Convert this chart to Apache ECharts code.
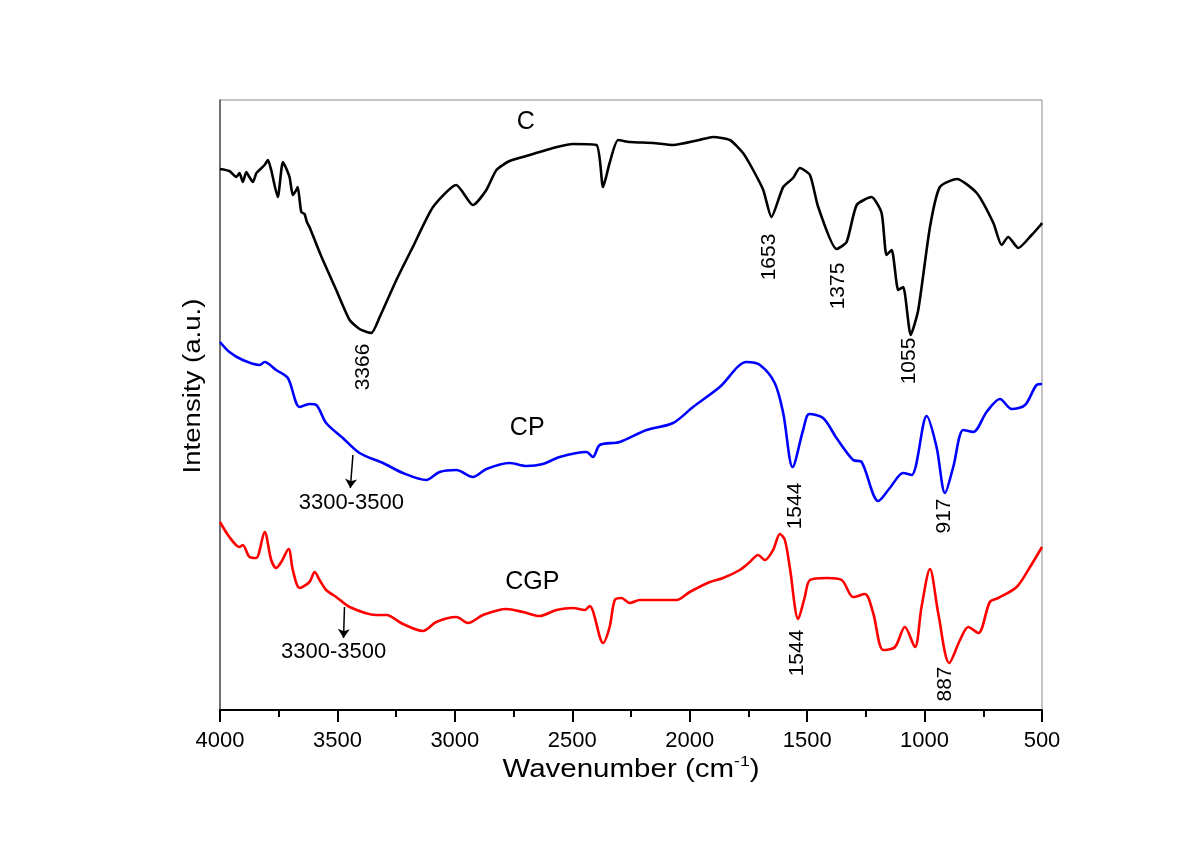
<!DOCTYPE html>
<html>
<head>
<meta charset="utf-8">
<script src="https://cdn.jsdelivr.net/npm/echarts@6/dist/echarts.min.js"></script>
<style>html,body{margin:0;padding:0;background:#fff}#chart{width:1195px;height:847px}</style>
</head>
<body>
<div id="chart"></div>
<script>
// Wavenumber (cm-1), intensity (a.u., estimated)
const C_SPECTRUM = [[4000,541],[3960,539],[3930,533],[3917,537],[3903,528],[3888,538],[3875,533],[3860,528],[3845,537],[3832,540],[3810,545],[3796,550],[3782,540],[3754,513],[3732,548],[3704,533],[3690,515],[3675,520],[3669,523],[3654,498],[3640,496],[3630,488],[3619,483],[3590,466],[3562,450],[3505,420],[3448,390],[3406,381],[3356,377],[3320,393],[3249,430],[3179,463],[3093,503],[2994,525],[2923,505],[2866,520],[2823,540],[2767,549],[2681,555],[2582,562],[2497,566],[2397,565],[2369,523],[2341,547],[2305,570],[2255,568],[2156,567],[2071,565],[1960,570],[1900,573],[1829,570],[1773,557],[1730,540],[1687,520],[1652,493],[1602,523],[1560,532],[1531,542],[1488,535],[1453,503],[1375,461],[1332,468],[1289,505],[1226,513],[1183,497],[1162,455],[1140,460],[1112,420],[1091,423],[1059,375],[1027,400],[977,483],[935,523],[863,531],[778,517],[707,487],[672,465],[644,473],[601,462],[544,475],[506,485],[500,487]];
const CP_SPECTRUM = [[4000,368],[3960,358],[3903,350],[3832,345],[3810,348],[3761,340],[3711,332],[3661,303],[3619,306],[3590,305],[3548,287],[3477,272],[3406,257],[3306,247],[3221,237],[3122,230],[3065,238],[2994,240],[2923,233],[2866,241],[2767,247],[2695,244],[2625,246],[2554,253],[2440,258],[2412,253],[2383,265],[2298,268],[2184,280],[2071,287],[1986,303],[1872,323],[1758,348],[1701,345],[1638,327],[1602,297],[1562,243],[1517,280],[1491,296],[1432,292],[1375,272],[1304,250],[1268,248],[1197,209],[1148,222],[1091,237],[1055,235],[991,294],[949,263],[913,217],[878,243],[835,280],[793,278],[736,298],[679,311],[629,301],[572,305],[523,325],[500,326]];
const CGP_SPECTRUM = [[4000,188],[3960,173],[3917,163],[3903,165],[3874,153],[3846,152],[3810,178],[3782,150],[3761,142],[3739,148],[3708,161],[3690,140],[3661,122],[3619,128],[3597,138],[3576,130],[3548,120],[3505,113],[3448,103],[3335,95],[3292,95],[3221,86],[3136,79],[3079,88],[2994,93],[2944,87],[2880,95],[2781,101],[2710,98],[2639,94],[2568,100],[2497,102],[2447,100],[2426,104],[2369,67],[2341,83],[2319,110],[2291,112],[2255,107],[2213,110],[2056,110],[2000,118],[1914,128],[1858,132],[1787,140],[1744,148],[1709,155],[1680,150],[1645,160],[1616,176],[1595,170],[1574,143],[1538,91],[1510,113],[1488,130],[1417,132],[1353,130],[1304,113],[1254,116],[1219,97],[1176,60],[1126,63],[1084,83],[1041,63],[1013,103],[977,141],[942,97],[895,47],[849,70],[814,83],[771,77],[722,108],[686,112],[608,123],[551,143],[500,163]];
const X_TICKS = [4000,3500,3000,2500,2000,1500,1000,500];
const X_TITLE = 'Wavenumber (cm';
const X_TITLE_SUP = '-1';
const Y_TITLE = 'Intensity (a.u.)';

const FONT = "'Liberation Sans', Arial, sans-serif";
function lbl(text, coord, size, rotate) {
  return {name: text, coord: coord, value: text,
    label: {show: true, formatter: text, fontSize: size, rotate: rotate || 0, color: '#000', fontFamily: FONT, position: 'inside'}};
}
function arrow(from, to) {
  return [{coord: from}, {coord: to}];
}
const arrowStyle = {symbol: ['none', 'arrow'], symbolSize: 9, silent: true, label: {show: false},
  lineStyle: {color: '#000', width: 1.5, type: 'solid'}};
const mpBase = {symbol: 'circle', symbolSize: 1, itemStyle: {color: 'rgba(0,0,0,0)'}, silent: true};

const chart = echarts.init(document.getElementById('chart'), null, {renderer: 'canvas'});
chart.setOption({
  animation: false,
  backgroundColor: '#fff',
  grid: {left: 220, right: 153, top: 100, bottom: 137, show: true, borderColor: '#8a8a8a', borderWidth: 1},
  graphic: [
    {type: 'text', x: 631, y: 770, scaleX: 1.18, scaleY: 1, silent: true,
      style: {text: '{a|' + X_TITLE + '}{b|' + X_TITLE_SUP + '}{a|)}', align: 'center', verticalAlign: 'middle',
        rich: {a: {fontSize: 25, fontFamily: FONT, fill: '#000'}, b: {fontSize: 15, fontFamily: FONT, fill: '#000', verticalAlign: 'top', padding: [0, 0, 16, 0]}}}},
    {type: 'text', x: 194, y: 386, rotation: Math.PI / 2, scaleX: 1.2, silent: true,
      style: {text: Y_TITLE, align: 'center', verticalAlign: 'middle', fontSize: 23, fontFamily: FONT, fill: '#000'}}
  ],
  xAxis: {
    type: 'value', min: 500, max: 4000, interval: 500, inverse: true,
    axisLine: {lineStyle: {color: '#000', width: 2}},
    axisTick: {show: true, inside: false, length: 12, lineStyle: {color: '#000', width: 2}},
    minorTick: {show: true, splitNumber: 2, length: 7, lineStyle: {color: '#000', width: 2}},
    axisLabel: {fontSize: 22, color: '#000', fontFamily: FONT, margin: 20,
      formatter: v => X_TICKS.includes(v) ? String(v) : ''},
    splitLine: {show: false}, minorSplitLine: {show: false}
  },
  yAxis: {
    type: 'value', min: 0, max: 610,
    axisLine: {show: true, lineStyle: {color: '#555', width: 1.5}},
    axisTick: {show: false}, axisLabel: {show: false}, splitLine: {show: false}
  },
  series: [
    {type: 'line', name: 'C', data: C_SPECTRUM, showSymbol: false, smooth: 0.2,
      lineStyle: {color: '#000', width: 2.6}, itemStyle: {color: '#000'},
      markPoint: Object.assign({}, mpBase, {data: [
        lbl('C', [2698, 588], 25),
        lbl('3366', [3392, 343], 21, 90),
        lbl('1653', [1663, 453], 21, 90),
        lbl('1375', [1369, 424], 21, 90),
        lbl('1055', [1067, 349], 21, 90)
      ]})},
    {type: 'line', name: 'CP', data: CP_SPECTRUM, showSymbol: false, smooth: 0.3,
      lineStyle: {color: '#0000ff', width: 2.6}, itemStyle: {color: '#0000ff'},
      markPoint: Object.assign({}, mpBase, {data: [
        lbl('CP', [2692, 282], 25),
        lbl('3300-3500', [3441, 207], 22),
        lbl('1544', [1552, 204], 21, 90),
        lbl('917', [918, 194], 21, 90)
      ]}),
      markLine: Object.assign({}, arrowStyle, {data: [arrow([3434, 255], [3445, 222])]})},
    {type: 'line', name: 'CGP', data: CGP_SPECTRUM, showSymbol: false, smooth: 0.3,
      lineStyle: {color: '#ff0000', width: 2.6}, itemStyle: {color: '#ff0000'},
      markPoint: Object.assign({}, mpBase, {data: [
        lbl('CGP', [2670, 128], 25),
        lbl('3300-3500', [3516, 58], 22),
        lbl('1544', [1543, 57], 21, 90),
        lbl('887', [913, 26], 21, 90)
      ]}),
      markLine: Object.assign({}, arrowStyle, {data: [arrow([3470, 103], [3474, 72])]})}
  ]
});
</script>
</body>
</html>
